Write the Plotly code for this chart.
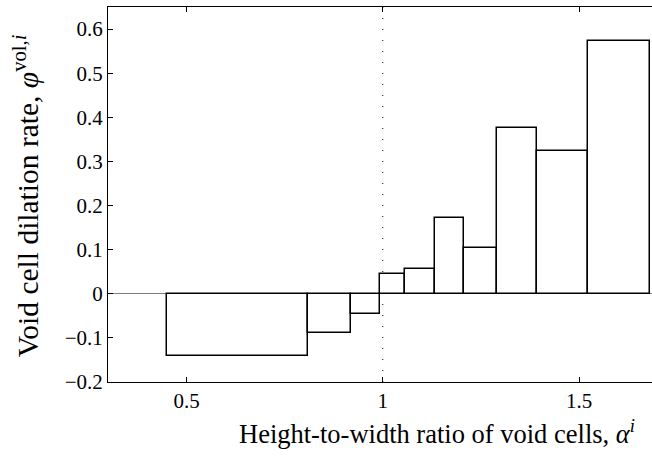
import plotly.graph_objects as go

# Bin edges of the void-cell aspect-ratio classes (alpha^i)
bin_edges = [0.451, 0.809, 0.918, 0.992, 1.057, 1.134, 1.206, 1.292, 1.394, 1.523, 1.681]
# Void cell dilation rate per class
dilation = [-0.140, -0.090, -0.045, 0.044, 0.057, 0.171, 0.103, 0.375, 0.324, 0.574]

x_ticks = [0.5, 1, 1.5]
x_tick_text = ["0.5", "1", "1.5"]
y_ticks = [-0.2, -0.1, 0, 0.1, 0.2, 0.3, 0.4, 0.5, 0.6]
y_tick_text = ["\u22120.2", "\u22120.1", "0", "0.1", "0.2", "0.3", "0.4", "0.5", "0.6"]

centers = [(a + b) / 2 for a, b in zip(bin_edges[:-1], bin_edges[1:])]
widths = [b - a for a, b in zip(bin_edges[:-1], bin_edges[1:])]

font_family = "Liberation Serif, Times New Roman, serif"

fig = go.Figure()
fig.add_trace(go.Bar(
    x=centers, y=dilation, width=widths, base=0,
    marker=dict(color="white", line=dict(color="black", width=1.5)),
    showlegend=False,
))

fig.add_shape(type="line", xref="x", yref="y", x0=1, x1=1, y0=-0.2, y1=0.65,
              line=dict(color="black", width=1, dash="1px,10px"), layer="below")

fig.update_layout(
    width=652, height=459,
    margin=dict(l=108, r=0, t=7, b=77),
    plot_bgcolor="white", paper_bgcolor="white",
    font=dict(family=font_family, size=21, color="black"),
    bargap=0,
    xaxis=dict(
        range=[0.3, 1.686], tickvals=x_ticks, ticktext=x_tick_text,
        ticks="inside", ticklen=5, tickwidth=1, tickcolor="black",
        showline=True, linecolor="black", linewidth=1, mirror="ticks",
        showgrid=False, zeroline=False,
        tickfont=dict(family=font_family, size=21),
    ),
    yaxis=dict(
        range=[-0.2, 0.65], tickvals=y_ticks, ticktext=y_tick_text,
        ticks="inside", ticklen=5, tickwidth=1, tickcolor="black",
        showline=True, linecolor="black", linewidth=1, mirror=False,
        showgrid=False, zeroline=True, zerolinecolor="#808080", zerolinewidth=1,
        tickfont=dict(family=font_family, size=21),
    ),
    annotations=[
        dict(text="Height-to-width ratio of void cells, <i>\u03b1</i><sup><i>i</i></sup>",
             xref="paper", yref="paper", x=(437 - 108) / 544, y=-(432 - 381.7) / 374.7,
             xanchor="center", yanchor="middle", showarrow=False,
             font=dict(size=26.5)),
        dict(text="Void cell dilation rate, <i>\u03c6</i><sup>vol,<i>i</i></sup>",
             xref="paper", yref="paper", x=-(108 - 26) / 544, y=(381.7 - 196) / 374.7,
             xanchor="center", yanchor="middle", showarrow=False, textangle=-90,
             font=dict(size=29.5)),
    ],
)

fig.write_html("out.html")
